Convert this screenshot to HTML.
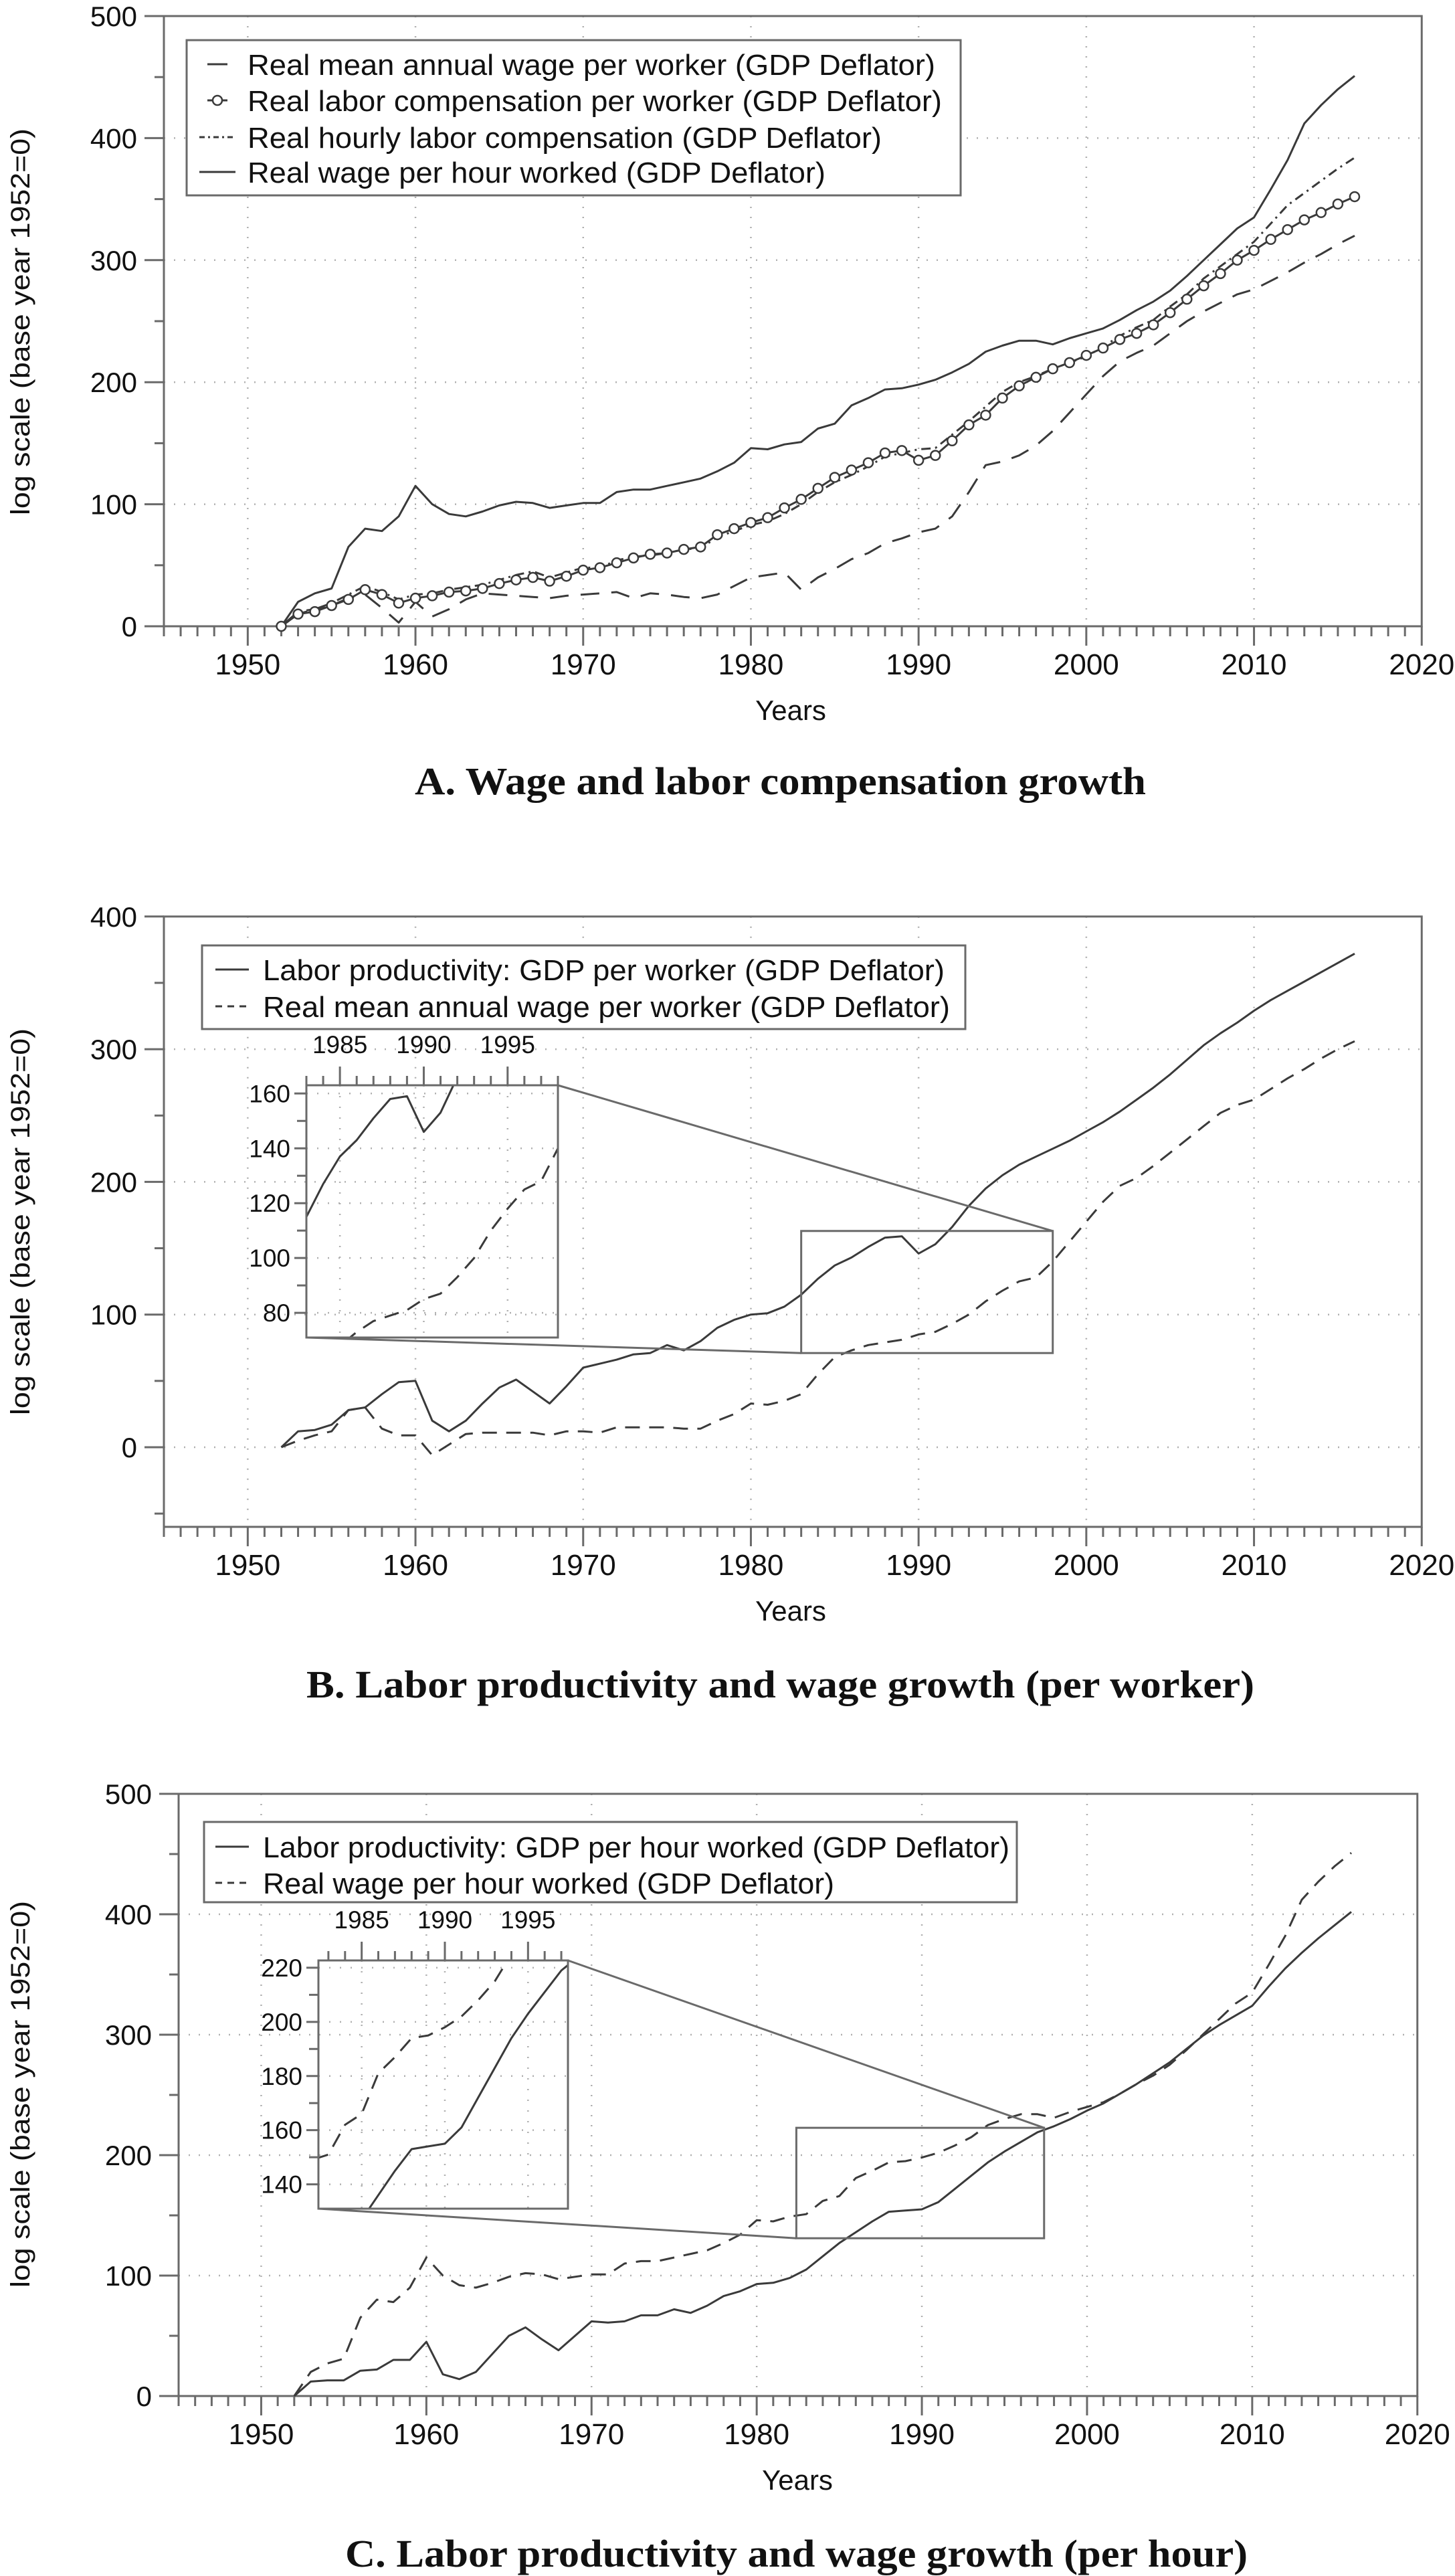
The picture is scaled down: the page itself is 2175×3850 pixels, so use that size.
<!DOCTYPE html>
<html><head><meta charset="utf-8"><style>
html,body{margin:0;padding:0;background:#fff}
svg{display:block}
text{font-family:"Liberation Sans",Arial,sans-serif;fill:#111}
.ttl{font-family:"Liberation Serif","Times New Roman",serif;font-weight:bold}
</style></head><body>
<svg id="fig" xmlns="http://www.w3.org/2000/svg" width="2175" height="3850" viewBox="0 0 2175 3850"></svg>
<script>
// ---------- data ----------
const years = [1952,1953,1954,1955,1956,1957,1958,1959,1960,1961,1962,1963,1964,1965,1966,1967,1968,1969,1970,1971,1972,1973,1974,1975,1976,1977,1978,1979,1980,1981,1982,1983,1984,1985,1986,1987,1988,1989,1990,1991,1992,1993,1994,1995,1996,1997,1998,1999,2000,2001,2002,2003,2004,2005,2006,2007,2008,2009,2010,2011,2012,2013,2014,2015,2016];
const wagePerHour = [0,20,27,31,65,80,78,90,115,100,92,90,94,99,102,101,97,99,101,101,110,112,112,115,118,121,127,134,146,145,149,151,162,166,181,187,194,195,198,202,208,215,225,230,234,234,231,236,240,244,251,259,266,275,287,300,313,326,335,358,382,412,427,440,451];
const laborCompPerWorker = [0,10,12,17,22,30,26,19,23,25,28,29,31,35,38,40,37,41,46,48,52,56,59,60,63,65,75,80,85,89,97,104,113,122,128,134,142,144,136,140,152,165,173,187,197,204,211,216,222,228,235,240,247,257,268,279,289,300,308,317,325,333,339,346,352];
const hourlyLaborComp = [0,10,14,19,26,33,28,22,26,27,30,32,34,38,42,45,40,44,48,48,54,57,58,60,63,64,73,78,83,86,92,100,110,118,124,131,139,142,145,146,157,168,180,192,200,205,211,216,221,229,238,245,251,262,272,285,295,305,315,330,345,355,365,375,384];
const meanWageA = [0,12,14,17,23,26,15,3,20,8,14,22,27,26,25,24,23,25,26,27,28,23,27,26,24,23,26,33,40,42,44,30,40,47,55,60,68,72,77,80,90,110,132,135,140,148,160,175,190,205,217,224,230,240,250,258,265,272,276,283,290,298,305,313,320];
const gdpPerWorker = [0,12,13,17,28,30,40,49,50,20,12,20,33,45,51,42,33,46,60,63,66,70,71,77,73,80,90,96,100,101,106,115,127,137,143,151,158,159,146,153,166,182,195,205,213,219,225,231,238,245,253,262,271,281,292,303,312,320,329,337,344,351,358,365,372];
const meanWageB = [0,5,9,12,28,30,14,9,9,-6,2,10,11,11,11,11,9,12,12,11,15,15,15,15,14,14,20,25,33,32,35,40,55,68,73,77,79,81,85,87,93,100,110,118,125,128,140,155,170,185,197,203,212,222,232,242,252,258,262,270,278,285,293,300,306];
const gdpPerHour = [0,12,13,13,21,22,30,30,45,18,14,20,35,50,57,47,38,50,62,61,62,67,67,72,69,75,83,87,93,94,98,105,116,127,136,145,153,154,155,161,172,183,194,203,211,219,224,230,237,243,251,259,268,277,288,299,308,316,324,340,355,368,380,391,402];
const xTickLabels = [1950,1960,1970,1980,1990,2000,2010,2020];
const yTicksA = [0,100,200,300,400,500];
const yTicksB = [0,100,200,300,400];
const insetXTickLabels = [1985,1990,1995];
const insetYTicksB = [80,100,120,140,160];
const insetYTicksC = [140,160,180,200,220];

// ---------- helpers ----------
const NS = 'http://www.w3.org/2000/svg';
const fig = document.getElementById('fig');
function mk(tag, attrs, parent){
  const e = document.createElementNS(NS, tag);
  for (const k in attrs) e.setAttribute(k, attrs[k]);
  (parent||fig).appendChild(e);
  return e;
}
const AX = '#6a6a6a', LN = '#3a3a3a', GR = '#b0b0b0';

function makeAxes(p){
  p.x = yr => p.left + (yr - 1945) * p.pxYr;
  p.y = v => p.zeroY - v * p.pxUnit;
  p.right = p.x(2020);
  p.top = p.y(p.vmax);
  p.bottom = p.y(p.vmin);
  return p;
}

function drawPanel(p, key){
  const g = mk('g', {});
  
  
  // grid
  for (const t of xTickLabels){
    if (t===2020) continue;
    const l = mk('line',{x1:p.x(t),x2:p.x(t),y1:p.top,y2:p.bottom,stroke:GR,'stroke-width':2.5,'stroke-dasharray':'2 13'},g);
    
    
  }
  for (const t of p.yTicks){
    if (t===p.vmax) continue;
    const l = mk('line',{x1:p.left,x2:p.right,y1:p.y(t),y2:p.y(t),stroke:GR,'stroke-width':2.5,'stroke-dasharray':'2 13'},g);
    
    
  }
  // frame
  const fr = mk('rect',{x:p.left,y:p.top,width:p.right-p.left,height:p.bottom-p.top,fill:'none',stroke:AX,'stroke-width':3},g);
  
  
  // x ticks
  for (let yr=1945; yr<=2020; yr++){
    const major = yr%10===0;
    mk('line',{x1:p.x(yr),x2:p.x(yr),y1:p.bottom,y2:p.bottom+(major?29:15),stroke:AX,'stroke-width':3},g);
  }
  for (const t of xTickLabels){
    const tx = mk('text',{x:p.x(t),y:p.bottom+72,'text-anchor':'middle','font-size':44},g);
    
    
    tx.textContent = t;
  }
  // y ticks
  for (let v=Math.ceil(p.vmin/50)*50; v<=p.vmax; v+=50){
    const major = v%100===0;
    mk('line',{x1:p.left-(major?29:14),x2:p.left,y1:p.y(v),y2:p.y(v),stroke:AX,'stroke-width':3},g);
  }
  for (const t of p.yTicks){
    const tx = mk('text',{x:p.left-40,y:p.y(t)+15,'text-anchor':'end','font-size':42},g);
    
    
    tx.textContent = t;
  }
  const xt = mk('text',{x:p.xTitleX,y:p.bottom+140,'text-anchor':'middle','font-size':42},g);
  
  
  xt.textContent = 'Years';
  const yt = mk('text',{x:0,y:0,'text-anchor':'middle','font-size':40,transform:`translate(44,${p.yTitleY}) rotate(-90)`,textLength:578,lengthAdjust:'spacingAndGlyphs'},g);
  
  
  yt.textContent = 'log scale (base year 1952=0)';
  const tt = mk('text',{x:p.titleX,y:p.titleY,'font-size':58,'class':'ttl',textLength:p.titleW,lengthAdjust:'spacingAndGlyphs'},g);
  
  
  tt.textContent = p.title;
  return g;
}

function pathD(xs, vs, fx, fy){
  return vs.map((v,i)=>(i?'L':'M')+fx(xs[i]).toFixed(1)+' '+fy(v).toFixed(1)).join(' ');
}
function series(parent, vals, fx, fy, dash, name, clip){
  const a = {d:pathD(years, vals, fx, fy), fill:'none', stroke:LN, 'stroke-width':3, 'stroke-linejoin':'round'};
  if (dash) a['stroke-dasharray'] = dash;
  if (clip) a['clip-path'] = clip;
  const e = mk('path', a, parent);
  
  
  return e;
}

function legend(parent, x, y, w, h, items){
  const lg = mk('g',{},parent);
  
  
  mk('rect',{x:x,y:y,width:w,height:h,fill:'#fff',stroke:AX,'stroke-width':3},lg);
  for (const it of items){
    const ent = mk('g',{},lg);
    
    
    const la = {x1:it.lx1,x2:it.lx2,y1:it.y,y2:it.y,stroke:LN,'stroke-width':3};
    if (it.dash) la['stroke-dasharray']=it.dash;
    mk('line',la,ent);
    if (it.circle) mk('circle',{cx:(it.lx1+it.lx2)/2,cy:it.y,r:7,fill:'#fff',stroke:LN,'stroke-width':2.5},ent);
    const t = mk('text',{x:it.tx,y:it.y+16,'font-size':44,textLength:it.tw,lengthAdjust:'spacingAndGlyphs'},ent);
    t.textContent = it.text;
  }
}

function inset(parent, p, ib, key, seriesList){
  // ib: box {l,t,r,b, y0,y1 (years), v0,v1, yTicks}
  const g = mk('g',{},parent);
  
  
  const fx = yr => ib.l + (yr-ib.y0)*(ib.r-ib.l)/(ib.y1-ib.y0);
  const fy = v => ib.b - (v-ib.v0)*(ib.b-ib.t)/(ib.v1-ib.v0);
  const cid = 'clip-'+key;
  const cp = mk('clipPath',{id:cid},g);
  mk('rect',{x:ib.l,y:ib.t,width:ib.r-ib.l,height:ib.b-ib.t},cp);
  // connectors
  const rx0 = p.x(ib.y0), rx1 = p.x(ib.y1), ry0 = p.y(ib.v1), ry1 = p.y(ib.v0);
  const zr = mk('rect',{x:rx0,y:ry0,width:rx1-rx0,height:ry1-ry0,fill:'none',stroke:AX,'stroke-width':3},g);
  
  
  mk('line',{x1:ib.r,y1:ib.t,x2:rx1,y2:ry0,stroke:AX,'stroke-width':3},g);
  mk('line',{x1:ib.l,y1:ib.b,x2:rx0,y2:ry1,stroke:AX,'stroke-width':3},g);
  // inset grid
  for (const t of insetXTickLabels) mk('line',{x1:fx(t),x2:fx(t),y1:ib.t,y2:ib.b,stroke:GR,'stroke-width':2.5,'stroke-dasharray':'2 14'},g);
  for (const t of ib.yTicks) mk('line',{x1:ib.l,x2:ib.r,y1:fy(t),y2:fy(t),stroke:GR,'stroke-width':2.5,'stroke-dasharray':'2 14'},g);
  // series
  for (const s of seriesList) series(g, s.vals, fx, fy, s.dash, s.name+'-inset', `url(#${cid})`);
  mk('rect',{x:ib.l,y:ib.t,width:ib.r-ib.l,height:ib.b-ib.t,fill:'none',stroke:AX,'stroke-width':3},g);
  // top ticks
  for (let yr=Math.ceil(ib.y0); yr<=ib.y1; yr++){
    const major = yr%5===0;
    mk('line',{x1:fx(yr),x2:fx(yr),y1:ib.t,y2:ib.t-(major?28:14),stroke:AX,'stroke-width':3},g);
  }
  for (const t of insetXTickLabels){
    const tx = mk('text',{x:fx(t),y:ib.t-48,'text-anchor':'middle','font-size':37},g);
    
    
    tx.textContent = t;
  }
  for (let v=Math.ceil(ib.v0/10)*10; v<=ib.v1; v+=10){
    const major = v%20===0;
    mk('line',{x1:ib.l-(major?18:14),x2:ib.l,y1:fy(v),y2:fy(v),stroke:AX,'stroke-width':3},g);
  }
  for (const t of ib.yTicks){
    const tx = mk('text',{x:ib.l-24,y:fy(t)+13,'text-anchor':'end','font-size':37},g);
    
    
    tx.textContent = t;
  }
}

// ---------- Panel A ----------
const A = makeAxes({left:245, pxYr:25.07, zeroY:936, pxUnit:1.824, vmin:0, vmax:500, yTicks:yTicksA,
  xTitleX:1182, yTitleY:481, title:'A.  Wage and labor compensation growth', titleX:620, titleY:1187, titleW:1093});
const gA = drawPanel(A,'panel-a');
series(gA, meanWageA, A.x, A.y, '28 18', 'line-real-mean-annual-wage');
series(gA, hourlyLaborComp, A.x, A.y, '14 7 3 7', 'line-real-hourly-labor-compensation');
series(gA, laborCompPerWorker, A.x, A.y, null, 'line-real-labor-compensation-per-worker');
series(gA, wagePerHour, A.x, A.y, null, 'line-real-wage-per-hour');
laborCompPerWorker.forEach((v,i)=>{
  const c = mk('circle',{cx:A.x(years[i]),cy:A.y(v),r:7,fill:'#fff',stroke:LN,'stroke-width':2.5},gA);
  
  
});
legend(gA, 279, 60, 1157, 232, [
  {y:96, lx1:310, lx2:340, dash:null, text:'Real mean annual wage per worker (GDP Deflator)', tx:370, tw:1028},
  {y:150, lx1:310, lx2:340, circle:true, text:'Real labor compensation per worker (GDP Deflator)', tx:370, tw:1038},
  {y:205, lx1:298, lx2:352, dash:'8 5 3 5', text:'Real hourly labor compensation (GDP Deflator)', tx:370, tw:948},
  {y:257, lx1:298, lx2:352, dash:null, text:'Real wage per hour worked (GDP Deflator)', tx:370, tw:864}
]);

// ---------- Panel B ----------
const B = makeAxes({left:245, pxYr:25.07, zeroY:2163, pxUnit:1.983, vmin:-60, vmax:400, yTicks:yTicksB,
  xTitleX:1182, yTitleY:1826, title:'B.  Labor productivity and wage growth (per worker)', titleX:458, titleY:2537, titleW:1417});
const gB = drawPanel(B,'panel-b');
series(gB, meanWageB, B.x, B.y, '22 14', 'line-real-mean-annual-wage');
series(gB, gdpPerWorker, B.x, B.y, null, 'line-gdp-per-worker');
legend(gB, 302, 1413, 1141, 125, [
  {y:1449, lx1:322, lx2:372, dash:null, text:'Labor productivity: GDP per worker (GDP Deflator)', tx:393, tw:1019},
  {y:1504, lx1:322, lx2:372, dash:'10 8', text:'Real mean annual wage per worker (GDP Deflator)', tx:393, tw:1027}
]);
inset(gB, B, {l:458, t:1622, r:834, b:1999, y0:1983, y1:1998, v0:71, v1:163, yTicks:insetYTicksB}, 'b', [
  {vals:meanWageB, dash:'22 14', name:'line-real-mean-annual-wage'},
  {vals:gdpPerWorker, dash:null, name:'line-gdp-per-worker'}
]);

// ---------- Panel C ----------
const C = makeAxes({left:267, pxYr:24.69, zeroY:3581, pxUnit:1.80, vmin:0, vmax:500, yTicks:yTicksA,
  xTitleX:1192, yTitleY:3130, title:'C.  Labor productivity and wage growth (per hour)', titleX:516, titleY:3836, titleW:1349});
const gC = drawPanel(C,'panel-c');
series(gC, wagePerHour, C.x, C.y, '22 14', 'line-real-wage-per-hour');
series(gC, gdpPerHour, C.x, C.y, null, 'line-gdp-per-hour');
legend(gC, 305, 2723, 1215, 120, [
  {y:2760, lx1:322, lx2:372, dash:null, text:'Labor productivity: GDP per hour worked (GDP Deflator)', tx:393, tw:1116},
  {y:2814, lx1:322, lx2:372, dash:'10 8', text:'Real wage per hour worked (GDP Deflator)', tx:393, tw:854}
]);
inset(gC, C, {l:476, t:2930, r:849, b:3301, y0:1982.4, y1:1997.4, v0:131, v1:222.7, yTicks:insetYTicksC}, 'c', [
  {vals:wagePerHour, dash:'22 14', name:'line-real-wage-per-hour'},
  {vals:gdpPerHour, dash:null, name:'line-gdp-per-hour'}
]);
</script>
</body></html>
